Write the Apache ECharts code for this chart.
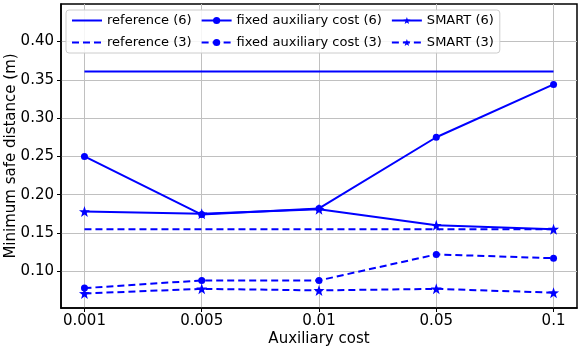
<!DOCTYPE html>
<html>
<head>
<meta charset="utf-8">
<script src="https://cdn.jsdelivr.net/npm/echarts@6/dist/echarts.min.js"></script>
<style>
  html, body { margin: 0; padding: 0; background: #fff; }
  #main { width: 582px; height: 350px; }
</style>
</head>
<body>
<div id="main"></div>
<script>
// x categories (auxiliary cost)
var categories = ['0.001', '0.005', '0.01', '0.05', '0.1'];
var yTicks = [0.10, 0.15, 0.20, 0.25, 0.30, 0.35, 0.40];

var reference6 = [0.361, 0.361, 0.361, 0.361, 0.361];
var reference3 = [0.155, 0.155, 0.155, 0.155, 0.155];
var fixed6 = [0.250, 0.174, 0.182, 0.275, 0.344];
var fixed3 = [0.078, 0.088, 0.088, 0.122, 0.117];
var smart6 = [0.178, 0.175, 0.181, 0.160, 0.155];
var smart3 = [0.071, 0.077, 0.075, 0.077, 0.072];

var star = 'path://M0,-10 L2.35,-3.24 L9.51,-3.09 L3.8,1.24 L5.88,8.09 L0,4 L-5.88,8.09 L-3.8,1.24 L-9.51,-3.09 L-2.35,-3.24 Z';
var blue = '#0000ff';

function pts(arr) {
  return arr.map(function (v, i) { return [i, v]; });
}

function mkSeries(name, values, symbol, size, dashed) {
  var noMarker = symbol === 'none';
  return {
    name: name,
    type: 'line',
    data: pts(values),
    symbol: noMarker ? 'circle' : symbol,
    symbolSize: size,
    showSymbol: !noMarker,
    color: blue,
    itemStyle: { color: blue, opacity: noMarker ? 0 : 1 },
    lineStyle: { color: blue, width: 2, type: dashed ? [7, 4] : 'solid' },
    animation: false
  };
}

var chart = echarts.init(document.getElementById('main'));

var option = {
  backgroundColor: '#fff',
  grid: {
    left: 61, right: 5, top: 4, bottom: 42,
    outerBoundsMode: 'none',
    show: true, borderColor: '#000', borderWidth: 1.5, backgroundColor: 'transparent'
  },
  legend: {
    data: ['reference (6)', 'fixed auxiliary cost (6)', 'SMART (6)',
           'reference (3)', 'fixed auxiliary cost (3)', 'SMART (3)'],
    left: 66, top: 10, width: 440,
    padding: [4, 6, 4, 5],
    itemWidth: 30, itemHeight: 9, itemGap: 9,
    backgroundColor: 'rgba(255,255,255,0.85)',
    borderColor: '#cccccc', borderWidth: 1, borderRadius: 3,
    textStyle: { fontFamily: 'DejaVu Sans', fontSize: 13, color: '#000', padding: [2, 0, 2, 0] }
  },
  xAxis: {
    type: 'value',
    min: -0.2, max: 4.2,
    name: 'Auxiliary cost',
    nameLocation: 'middle',
    nameGap: 24,
    nameMoveOverlap: false,
    nameTextStyle: { fontFamily: 'DejaVu Sans', fontSize: 15, color: '#000', verticalAlign: 'top' },
    axisLine: { show: true, onZero: false, lineStyle: { color: '#000', width: 1.5 } },
    axisTick: { show: true, length: 4, inside: false, customValues: [0, 1, 2, 3, 4], lineStyle: { color: '#000' } },
    axisLabel: {
      customValues: [0, 1, 2, 3, 4],
      formatter: function (v) { return categories[Math.round(v)]; },
      fontFamily: 'DejaVu Sans', fontSize: 15, color: '#000', margin: 6
    },
    splitLine: { show: true, lineStyle: { color: '#c0c0c0', width: 1 } }
  },
  yAxis: {
    type: 'value',
    min: 0.052, max: 0.449,
    name: 'Minimum safe distance (m)',
    nameLocation: 'middle',
    nameGap: 42,
    nameMoveOverlap: false,
    nameTextStyle: { fontFamily: 'DejaVu Sans', fontSize: 15, color: '#000' },
    axisLine: { show: true, onZero: false, lineStyle: { color: '#000', width: 1.5 } },
    axisTick: { show: true, length: 4, customValues: yTicks, lineStyle: { color: '#000' } },
    axisLabel: {
      customValues: yTicks,
      formatter: function (v) { return v.toFixed(2); },
      fontFamily: 'DejaVu Sans', fontSize: 15, color: '#000', margin: 7
    },
    splitLine: { show: true, lineStyle: { color: '#c0c0c0', width: 1 } }
  },
  series: [
    mkSeries('reference (6)', reference6, 'none', 0, false),
    mkSeries('reference (3)', reference3, 'none', 0, true),
    mkSeries('fixed auxiliary cost (6)', fixed6, 'circle', 7, false),
    mkSeries('fixed auxiliary cost (3)', fixed3, 'circle', 7, true),
    mkSeries('SMART (6)', smart6, star, 11, false),
    mkSeries('SMART (3)', smart3, star, 11, true)
  ]
};

chart.setOption(option);
</script>
</body>
</html>
